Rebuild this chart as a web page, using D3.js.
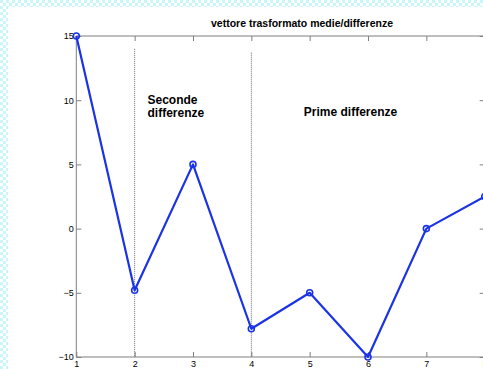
<!DOCTYPE html>
<html>
<head>
<meta charset="utf-8">
<script src="https://cdn.jsdelivr.net/npm/d3@7"></script>
<style>
  html, body { margin: 0; padding: 0; background: #fff; overflow: hidden; }
  svg { display: block; font-family: "Liberation Sans", Arial, Helvetica, sans-serif; }
</style>
</head>
<body>
<svg id="chart" width="483" height="369"></svg>
<script>
// Transformed vector: averages / differences
const xValues = [1, 2, 3, 4, 5, 6, 7, 8];
const yValues = [15, -4.8, 5, -7.8, -5, -10, 0, 2.5];
const xTicks = [1, 2, 3, 4, 5, 6, 7, 8];
const yTicks = [-10, -5, 0, 5, 10, 15];
const separatorX = [2, 4];
const separatorTop = [14, 13.7];
const titleText = "vettore trasformato medie/differenze";
const sectionLabels = [
  { lines: ["Seconde", "differenze"], x: 2.22, y: 9.7 },
  { lines: ["Prime differenze"], x: 4.9, y: 8.8 }
];

const svg = d3.select("#chart");
const W = 483, H = 369;

// patterned figure border
const defs = svg.append("defs");
const pat = defs.append("pattern")
  .attr("id", "bg").attr("width", 6).attr("height", 6)
  .attr("patternUnits", "userSpaceOnUse");
pat.append("rect").attr("width", 6).attr("height", 6).attr("fill", "#ffffff");
pat.append("rect").attr("width", 3).attr("height", 3).attr("fill", "#c9f6fb");
pat.append("rect").attr("x", 3).attr("y", 3).attr("width", 3).attr("height", 3).attr("fill", "#c9f6fb");
svg.append("rect").attr("width", W).attr("height", H).attr("fill", "url(#bg)");
svg.append("rect").attr("x", 8).attr("y", 7).attr("width", W).attr("height", H).attr("fill", "#fff");

const plotL = 76.3, plotR = 484.7, plotT = 36, plotB = 357;
const x = d3.scaleLinear().domain([1, 8]).range([plotL, plotR]);
const y = d3.scaleLinear().domain([-10, 15]).range([plotB, plotT]);

const axisColor = "#7f7f7f";
const tickLen = 5;

// axis box
svg.append("rect")
  .attr("x", plotL).attr("y", plotT)
  .attr("width", plotR - plotL).attr("height", plotB - plotT)
  .attr("fill", "none").attr("stroke", axisColor).attr("stroke-width", 1);

// inward ticks via d3 axes
function styleAxis(g) {
  g.select(".domain").remove();
  g.selectAll(".tick line").attr("stroke", axisColor);
  g.selectAll(".tick text").attr("fill", "#000").attr("font-size", 9);
}
svg.append("g").attr("transform", `translate(0,${plotB})`)
  .call(d3.axisBottom(x).tickValues(xTicks).tickFormat(d3.format("d")).tickSizeInner(-tickLen).tickPadding(6))
  .call(styleAxis)
  .selectAll(".tick text").attr("dy", "0.71em").attr("y", 4);
svg.append("g").attr("transform", `translate(0,${plotT})`)
  .call(d3.axisTop(x).tickValues(xTicks).tickSizeInner(-tickLen).tickFormat(""))
  .call(styleAxis);
svg.append("g").attr("transform", `translate(${plotL},0)`)
  .call(d3.axisLeft(y).tickValues(yTicks).tickFormat(d3.format("d")).tickSizeInner(-tickLen).tickPadding(2))
  .call(styleAxis)
  .selectAll(".tick text").attr("x", -2.5);
svg.append("g").attr("transform", `translate(${plotR},0)`)
  .call(d3.axisRight(y).tickValues(yTicks).tickSizeInner(-tickLen).tickFormat(""))
  .call(styleAxis);

// dotted separators
svg.selectAll("line.sep").data(separatorX).join("line")
  .attr("class", "sep")
  .attr("x1", d => x(d)).attr("x2", d => x(d))
  .attr("y1", (d, i) => y(separatorTop[i])).attr("y2", y(-10))
  .attr("stroke", "#6a6a6a").attr("stroke-width", 1)
  .attr("stroke-dasharray", "1,1");

// data line and markers
const pts = xValues.map((v, i) => [v, yValues[i]]);
const blue = "#1a33e6";
svg.append("path")
  .datum(pts)
  .attr("fill", "none").attr("stroke", blue).attr("stroke-width", 2.2)
  .attr("stroke-linejoin", "round")
  .attr("d", d3.line().x(d => x(d[0])).y(d => y(d[1])));
svg.selectAll("circle.pt").data(pts).join("circle")
  .attr("class", "pt")
  .attr("cx", d => x(d[0])).attr("cy", d => y(d[1]))
  .attr("r", 3).attr("fill", "none")
  .attr("stroke", blue).attr("stroke-width", 1.6);

// section labels
sectionLabels.forEach(lbl => {
  const t = svg.append("text")
    .attr("x", x(lbl.x)).attr("y", y(lbl.y))
    .attr("font-size", 12).attr("font-weight", "bold").attr("fill", "#000");
  lbl.lines.forEach((ln, i) => {
    t.append("tspan").attr("x", x(lbl.x)).attr("dy", i === 0 ? 0 : 13).text(ln);
  });
});

// title
svg.append("text")
  .attr("x", 302).attr("y", 26.5)
  .attr("text-anchor", "middle")
  .attr("font-size", 10.5).attr("font-weight", "bold").attr("fill", "#000")
  .text(titleText);
</script>
</body>
</html>
